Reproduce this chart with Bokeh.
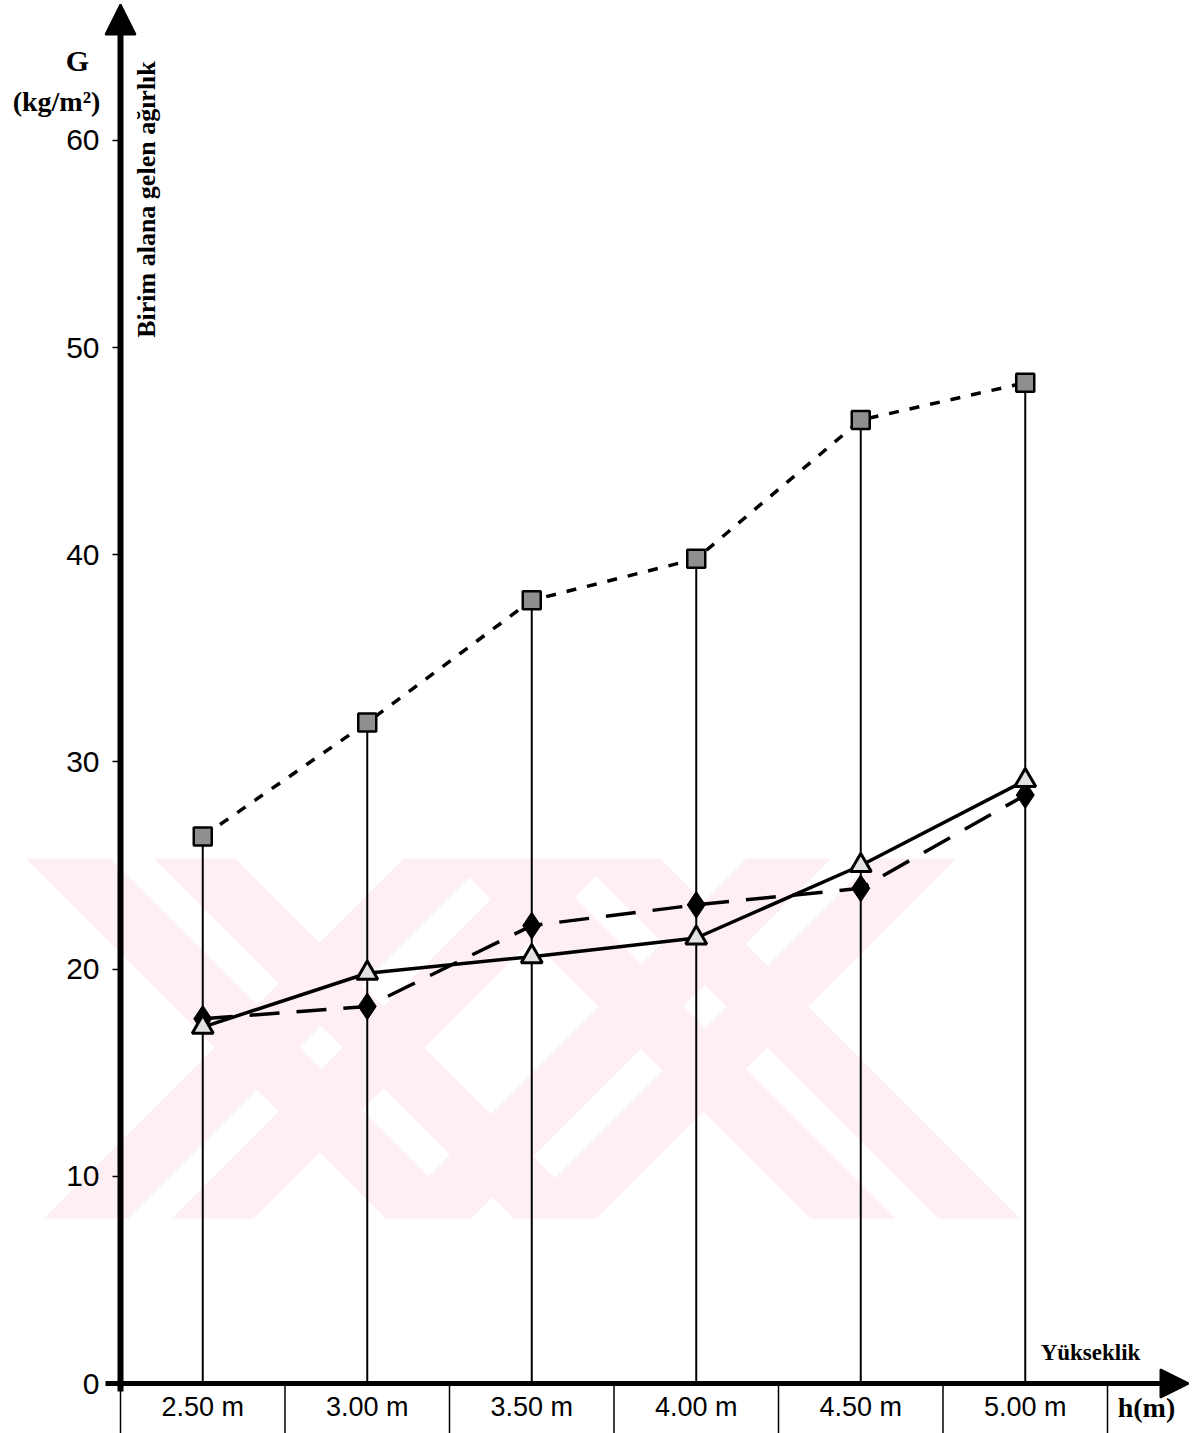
import numpy as np
from bokeh.plotting import figure
from bokeh.models import FixedTicker, Arrow, NormalHead, Label, LinearAxis
from bokeh.embed import file_html
from bokeh.resources import INLINE

# ---------------- data ----------------
heights = [2.50, 3.00, 3.50, 4.00, 4.50, 5.00]
height_labels = ["2.50 m", "3.00 m", "3.50 m", "4.00 m", "4.50 m", "5.00 m"]
series_square = [26.4, 31.9, 37.8, 39.8, 46.5, 48.3]     # short-dotted line
series_triangle = [17.2, 19.8, 20.6, 21.5, 25.0, 29.1]   # solid line
series_diamond = [17.6, 18.2, 22.1, 23.1, 23.9, 28.4]    # long dashed line
y_ticks = [0, 10, 20, 30, 40, 50, 60]

# ---------------- layout ----------------
W, H = 1199, 1433
PX_PER_X = 329.0
PX_PER_Y = 20.72
AXIS_X = 2.25          # where the y axis crosses
AXIS_PX_X = 120        # px of y axis
AXIS_PX_Y = 1383       # px of x axis
x_start = AXIS_X - AXIS_PX_X / PX_PER_X
x_end = x_start + W / PX_PER_X
y_end = AXIS_PX_Y / PX_PER_Y
y_start = y_end - H / PX_PER_Y


def dx(px):
    return x_start + px / PX_PER_X


def dy(py):
    return y_end - py / PX_PER_Y


p = figure(width=W, height=H, x_range=(x_start, x_end), y_range=(y_start, y_end),
           output_backend="svg", toolbar_location=None, min_border=0,
           x_axis_location=None, y_axis_location=None)
p.grid.visible = False
p.outline_line_color = None
p.background_fill_color = "white"

# ---------------- watermark (decoration) ----------------
WM_T, WM_B = 858, 1218
wm_h = WM_B - WM_T
wm_bands = [(25, 110, 1), (153, 235, 1), (403, 488, -1), (531, 613, -1),
            (450, 535, 1), (578, 660, 1), (746, 831, -1), (874, 956, -1)]
wm_xs, wm_ys = [], []
for a, b, s in wm_bands:
    wm_xs.append([dx(a), dx(b), dx(b + s * wm_h), dx(a + s * wm_h)])
    wm_ys.append([dy(WM_T), dy(WM_T), dy(WM_B), dy(WM_B)])
p.patches(wm_xs, wm_ys, fill_color="#fdeff2", line_color=None)

# ---------------- axes ----------------
yax = LinearAxis(fixed_location=AXIS_X, ticker=FixedTicker(ticks=y_ticks),
                 axis_line_color=None, major_tick_out=8, major_tick_in=0,
                 major_tick_line_width=1.5, minor_tick_out=0, minor_tick_in=0,
                 major_label_text_font="Liberation Sans",
                 major_label_text_font_size="30px", major_label_standoff=13,
                 major_label_text_color="black")
p.add_layout(yax, "left")

xax = LinearAxis(fixed_location=0, ticker=FixedTicker(ticks=heights),
                 major_label_overrides={h: lab for h, lab in zip(heights, height_labels)},
                 axis_line_color=None, major_tick_out=0, major_tick_in=0,
                 minor_tick_out=0, minor_tick_in=0,
                 major_label_text_font="Liberation Sans",
                 major_label_text_font_size="27px", major_label_standoff=8,
                 major_label_text_color="black")
p.add_layout(xax, "below")

# axis lines with arrow heads
p.add_layout(Arrow(x_start=AXIS_X, y_start=dy(1391), x_end=AXIS_X, y_end=dy(4),
                   line_width=6, line_color="black",
                   end=NormalHead(size=30, fill_color="black", line_color="black",
                                  line_width=2)))
p.add_layout(Arrow(x_start=dx(105), y_start=0, x_end=dx(1188), y_end=0,
                   line_width=5, line_color="black",
                   end=NormalHead(size=28, fill_color="black", line_color="black",
                                  line_width=2)))

# dividers below the x axis
dividers = [h - 0.25 for h in heights] + [heights[-1] + 0.25]
p.segment(x0=dividers, y0=[0] * len(dividers), x1=dividers, y1=[y_start] * len(dividers),
          line_color="black", line_width=1.5)

# drop lines
p.segment(x0=heights, y0=[0] * len(heights), x1=heights, y1=series_square,
          line_color="black", line_width=2)

# series
p.line(heights, series_square, line_color="black", line_width=3.5, line_dash="10 11")
p.line(heights, series_diamond, line_color="black", line_width=3.5, line_dash="30 17")
p.line(heights, series_triangle, line_color="black", line_width=3.5)

p.scatter(heights, series_diamond, marker="diamond", size=27, fill_color="black",
          line_color="black", line_width=1)
p.scatter(heights, series_triangle, marker="triangle", size=21, fill_color="#e2e2e2",
          line_color="black", line_width=3)
p.scatter(heights, series_square, marker="square", size=18, fill_color="#8f8f8f",
          line_color="black", line_width=2.5)

# ---------------- texts ----------------
def add_text(px, py, text, size, angle=0.0):
    p.add_layout(Label(x=dx(px), y=dy(py), text=text, text_font="Liberation Serif",
                       text_font_size=size, text_font_style="bold", text_color="black",
                       angle=angle, text_align="center", text_baseline="middle"))


add_text(77, 60, "G", "30px")
add_text(56, 101, "(kg/m²)", "28px")
add_text(146, 199, "Birim alana gelen ağırlık", "26px", np.pi / 2)
add_text(1090, 1352, "Yükseklik", "23px")
add_text(1146, 1407, "h(m)", "28px")

open("out.html", "w").write(file_html(p, INLINE))
